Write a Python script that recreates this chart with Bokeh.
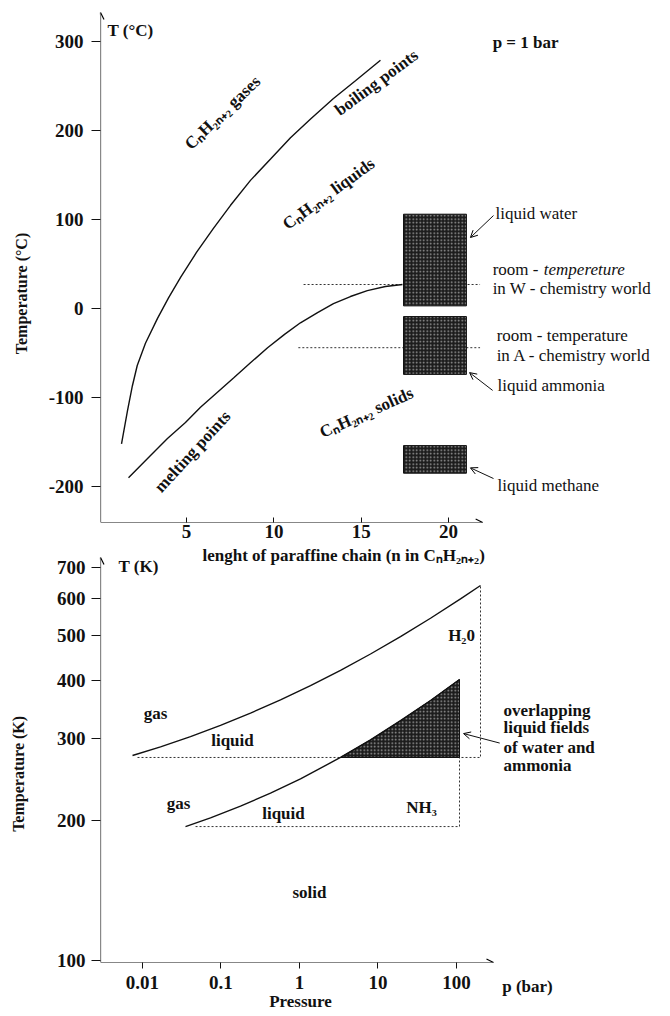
import math
from bokeh.plotting import figure
from bokeh.layouts import column, row
from bokeh.models import (Label, Arrow, OpenHead, FixedTicker, CustomJSTickFormatter,
                          Range1d, ColumnDataSource)
from bokeh.embed import file_html
from bokeh.resources import INLINE

FONT = "Liberation Serif"
INK = "#111111"

# ---------------- top panel: n-alkanes at p = 1 bar ----------------
boil_n = [1.28, 1.62, 1.90, 2.18, 2.65, 3.34, 3.97, 4.66, 5.57, 6.54, 7.52, 8.66,
          9.81, 10.95, 12.10, 13.41, 14.67, 16.10]
boil_t = [-152, -115, -87, -64, -39, -11, 12, 35, 63, 90, 116, 144,
          168, 192, 213, 236, 256, 279]
melt_n = [1.68, 2.94, 3.91, 4.94, 5.80, 6.77, 7.69, 8.66, 9.64, 10.61, 11.52,
          12.50, 13.41, 14.38, 15.35, 16.38, 17.36]
melt_t = [-190, -165, -146, -128, -111, -94, -78, -61, -44, -29, -16,
          -4.5, 5.6, 13.5, 20.2, 24.7, 27]
liq_names = ["liquid water", "liquid ammonia", "liquid methane"]
liq_n0 = [17.42, 17.42, 17.42]
liq_n1 = [21.02, 21.02, 21.02]
liq_tlow = [3, -74, -185]
liq_thigh = [106, -9, -154]
room_names = ["W", "A"]
room_t = [27, -44]
room_n0 = [11.7, 11.4]
room_n1 = [21.8, 21.8]
top_xticks = [5, 10, 15, 20]
top_yticks = [-200, -100, 0, 100, 200, 300]

# ---------------- bottom panel: phase diagrams of H2O and NH3 ----------------
water_p = [0.00746, 0.01696, 0.04088, 0.0985, 0.2376, 0.5728, 1.381, 3.33, 8.025,
           19.35, 46.65, 112.5, 202.2]
water_t = [276.0, 288.0, 302.9, 320.3, 340.4, 363.5, 390.1, 420.9, 456.2,
           497.4, 544.5, 599.3, 640.5]
water_triple_t = 273.3
water_triple_p = 0.00864
nh3_p = [0.0353, 0.07347, 0.1772, 0.4272, 1.030, 3.33, 8.025, 19.35, 46.65, 109.2]
nh3_t = [194.1, 202.6, 214.7, 229.0, 245.9, 273.3, 298.1, 327.9, 362.4, 402.2]
nh3_triple_t = 194.1
nh3_triple_p = 0.0474
bot_xticks = [0.01, 0.1, 1, 10, 100]
bot_yticks = [100, 200, 300, 400, 500, 600, 700]
unit_tick = [802.6]          # where the axis unit "p (bar)" is written

HATCH = dict(fill_color="#1c1c1c", hatch_pattern="dot", hatch_color="#a0a0a0",
             hatch_scale=3.5, hatch_weight=1.0, line_color=INK, line_width=1)
FMT = "return tick.toString();"


def lab(p, x, y, text, size="17px", style="bold", align="left", baseline="middle", angle=0.0):
    p.add_layout(Label(x=x, y=y, text=text, text_font=FONT, text_font_size=size,
                       text_font_style=style, text_align=align, text_baseline=baseline,
                       angle=angle, text_color=INK))


def bare(p):
    p.outline_line_color = None
    p.xgrid.visible = False
    p.ygrid.visible = False


def style_axes(p):
    bare(p)
    for ax in (p.xaxis[0], p.yaxis[0]):
        ax.axis_line_color = None
        ax.minor_tick_line_color = None
        ax.major_tick_line_color = INK
        ax.major_tick_line_width = 1
        ax.major_label_text_font = FONT
        ax.major_label_text_font_size = "19px"
        ax.major_label_text_font_style = "bold"
        ax.major_label_text_color = INK
        ax.formatter = CustomJSTickFormatter(code=FMT)


# ===== top figure =====
x0, x1 = 0.077, 32.70
y0, y1 = -240.4, 346.1
p1 = figure(width=630, height=545, output_backend="svg", toolbar_location=None,
            x_range=Range1d(x0, x1), y_range=Range1d(y0, y1),
            min_border_left=60, min_border_right=0, min_border_top=0, min_border_bottom=23)
style_axes(p1)
p1.xaxis.ticker = FixedTicker(ticks=top_xticks)
p1.yaxis.ticker = FixedTicker(ticks=top_yticks)
p1.xaxis.major_tick_in = 5
p1.xaxis.major_tick_out = 0
p1.xaxis.major_label_standoff = 2
p1.yaxis.major_tick_in = 0
p1.yaxis.major_tick_out = 9
p1.yaxis.major_label_standoff = 8

p1.add_layout(Arrow(end=OpenHead(size=7, line_width=1.2), x_start=x0, y_start=y0,
                    x_end=x0, y_end=332.6, line_width=1.2, line_color=INK))
p1.add_layout(Arrow(end=OpenHead(size=7, line_width=1.2), x_start=x0, y_start=y0,
                    x_end=21.95, y_end=y0, line_width=1.2, line_color=INK))

for t, a, b in zip(room_t, room_n0, room_n1):
    p1.line([a, b], [t, t], line_dash="2 2", line_color="#333333", line_width=1)

p1.line(boil_n, boil_t, line_color=INK, line_width=1.4)
p1.line(melt_n, melt_t, line_color=INK, line_width=1.4)

src_liq = ColumnDataSource(dict(left=liq_n0, right=liq_n1, bottom=liq_tlow, top=liq_thigh, name=liq_names))
p1.quad(left="left", right="right", bottom="bottom", top="top", source=src_liq, **HATCH)

for (xs, ys, xe, ye) in [(22.57, 104.5, 21.25, 79.8), (22.52, -92, 21.2, -72), (22.57, -191, 21.25, -179)]:
    p1.add_layout(Arrow(end=OpenHead(size=7, line_width=1), x_start=xs, y_start=ys,
                        x_end=xe, y_end=ye, line_width=1, line_color=INK))

lab(p1, 0.48, 312, "T (°C)")
lab(p1, 22.52, 299, "p = 1 bar")
lab(p1, 22.69, 106.7, "liquid water", size="17px", style="normal")
lab(p1, 22.52, 43.8, "room - ", size="17px", style="normal")
lab(p1, 25.45, 43.8, "tempereture", size="17px", style="italic")
lab(p1, 22.52, 22.5, "in W - chemistry world", size="17px", style="normal")
lab(p1, 22.75, -30.3, "room - temperature", size="17px", style="normal")
lab(p1, 22.75, -52.8, "in A - chemistry world", size="17px", style="normal")
lab(p1, 22.80, -86.5, "liquid ammonia", size="17px", style="normal")
lab(p1, 22.80, -198.9, "liquid methane", size="17px", style="normal")

lab(p1, 7.06, 220.2, "CₙH₂ₙ₊₂ gases", align="center", angle=math.radians(44))
lab(p1, 15.87, 254, "boiling points", align="center", angle=math.radians(36.5))
lab(p1, 13.13, 129, "CₙH₂ₙ₊₂ liquids", align="center", angle=math.radians(36))
lab(p1, 5.34, -160.7, "melting points", align="center", angle=math.radians(47.5))
lab(p1, 15.30, -116.9, "CₙH₂ₙ₊₂ solids", align="center", angle=math.radians(24))

# strip holding the vertical axis title of the top panel
t1 = figure(width=40, height=545, output_backend="svg", toolbar_location=None,
            x_range=Range1d(0, 40), y_range=Range1d(y0, y1),
            x_axis_location=None, y_axis_location=None,
            min_border_left=0, min_border_right=0, min_border_top=0, min_border_bottom=23)
bare(t1)
lab(t1, 21, 16.9, "Temperature (°C)", size="16px", align="center", angle=math.pi / 2)

# ===== bottom figure (main part) =====
px0, px1 = 10 ** -2.535, 10 ** 2.5605
py0, py1 = 10 ** 1.9957, 10 ** 2.8925
BB = 54
p2 = figure(width=460, height=471, output_backend="svg", toolbar_location=None,
            x_axis_type="log", y_axis_type="log",
            x_range=Range1d(px0, px1), y_range=Range1d(py0, py1),
            min_border_left=60, min_border_right=0, min_border_top=0, min_border_bottom=BB)
style_axes(p2)
p2.xaxis.ticker = FixedTicker(ticks=bot_xticks)
p2.yaxis.ticker = FixedTicker(ticks=bot_yticks)
p2.xaxis.major_tick_in = 0
p2.xaxis.major_tick_out = 6
p2.xaxis.major_label_standoff = 7
p2.xaxis.axis_label = "Pressure"
p2.xaxis.axis_label_standoff = 0
p2.xaxis.axis_label_text_font = FONT
p2.xaxis.axis_label_text_font_size = "17px"
p2.xaxis.axis_label_text_font_style = "bold"
p2.xaxis.axis_label_text_color = INK
p2.yaxis.major_tick_in = 0
p2.yaxis.major_tick_out = 9
p2.yaxis.major_label_standoff = 6

p2.add_layout(Arrow(end=OpenHead(size=7, line_width=1.2), x_start=px0, y_start=py0,
                    x_end=px0, y_end=735.7, line_width=1.2, line_color=INK))
p2.add_layout(Arrow(end=OpenHead(size=7, line_width=1.2), x_start=px0, y_start=py0,
                    x_end=296, y_end=py0, line_width=1.2, line_color=INK))

p2.line([water_triple_p, water_p[-1], water_p[-1]], [water_triple_t, water_triple_t, water_t[-1]],
        line_dash="2 2", line_color="#333333", line_width=1)
p2.line([nh3_triple_p, nh3_p[-1], nh3_p[-1]], [nh3_triple_t, nh3_triple_t, water_triple_t],
        line_dash="2 2", line_color="#333333", line_width=1)

ov_p = [pp for pp, tt in zip(nh3_p, nh3_t) if tt >= water_triple_t] + [nh3_p[-1]]
ov_t = [tt for tt in nh3_t if tt >= water_triple_t] + [water_triple_t]
p2.patch(ov_p, ov_t, **HATCH)

p2.line(water_p, water_t, line_color=INK, line_width=1.4)
p2.line(nh3_p, nh3_t, line_color=INK, line_width=1.4)

p2.add_layout(Arrow(end=OpenHead(size=7, line_width=1), x_start=355, y_start=293.5,
                    x_end=123, y_end=307.6, line_width=1, line_color=INK))

lab(p2, 0.0581, 743, "lenght of paraffine chain (n in CₙH₂ₙ₊₂)", size="17px")
lab(p2, 0.00495, 703, "T (K)")
lab(p2, 0.0147, 340, "gas", align="center")
lab(p2, 0.140, 297, "liquid", align="center")
lab(p2, 0.0287, 218, "gas", align="center")
lab(p2, 0.625, 207, "liquid", align="center")
lab(p2, 35.8, 213, "NH₃", align="center")
lab(p2, 116, 500, "H₂0", align="center")
lab(p2, 1.34, 140, "solid", align="center")

# strip holding the vertical axis title of the bottom panel
t2 = figure(width=40, height=471, output_backend="svg", toolbar_location=None,
            y_axis_type="log", x_range=Range1d(0, 40), y_range=Range1d(py0, py1),
            x_axis_location=None, y_axis_location=None,
            min_border_left=0, min_border_right=0, min_border_top=0, min_border_bottom=BB)
bare(t2)
lab(t2, 18, 252, "Temperature (K)", size="16px", align="center", angle=math.pi / 2)

# ===== bottom figure (right-hand notes, same log scales) =====
sx0, sx1 = 10 ** 2.5605, 10 ** 4.7261
p3 = figure(width=170, height=471, output_backend="svg", toolbar_location=None,
            x_axis_type="log", y_axis_type="log",
            x_range=Range1d(sx0, sx1), y_range=Range1d(py0, py1),
            y_axis_location=None,
            min_border_left=0, min_border_right=0, min_border_top=0, min_border_bottom=BB)
bare(p3)
ax3 = p3.xaxis[0]
ax3.ticker = FixedTicker(ticks=unit_tick)
ax3.formatter = CustomJSTickFormatter(code="return 'p (bar)';")
ax3.axis_line_color = None
ax3.major_tick_line_color = None
ax3.minor_tick_line_color = None
ax3.major_tick_in = 0
ax3.major_tick_out = 6
ax3.major_label_standoff = 8
ax3.major_label_text_font = FONT
ax3.major_label_text_font_size = "17px"
ax3.major_label_text_font_style = "bold"
ax3.major_label_text_color = INK
for t, s in zip([345, 317, 287, 263], ["overlapping", "liquid fields", "of water and", "ammonia"]):
    lab(p3, 397, t, s)

layout = column(row(t1, p1, spacing=0), row(t2, p2, p3, spacing=0), spacing=0)
open("out.html", "w").write(file_html(layout, INLINE))
